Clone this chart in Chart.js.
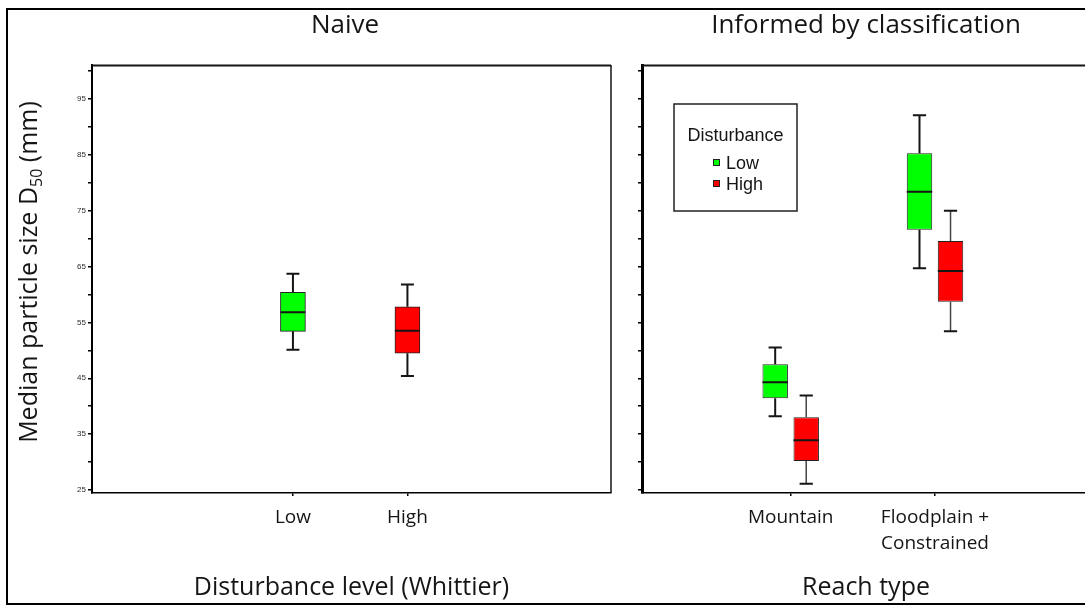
<!DOCTYPE html>
<html>
<head>
<meta charset="utf-8">
<script src="https://cdn.jsdelivr.net/npm/chart.js@4.4.1/dist/chart.umd.min.js"></script>
<style>
  html, body { margin: 0; padding: 0; background: #fff; overflow: hidden; width: 1085px; height: 606px; }
  #frame { position: absolute; left: 6px; top: 8px; width: 1200px; height: 593px; border: 2px solid #000; }
  #naive { position: absolute; left: 0; top: 0; }
  #informed { position: absolute; left: 620px; top: 0; }
</style>
</head>
<body>
<div id="frame"></div>
<canvas id="naive" width="625" height="606"></canvas>
<canvas id="informed" width="480" height="606"></canvas>
<script>
// Median particle size D50 (mm): box-and-whisker summaries

// Naive grouping by disturbance level (Whittier)
const disturbanceLevels = ['Low', 'High'];
const naiveMin    = [50.1, 45.4];
const naiveQ1     = [53.4, 49.5];
const naiveMedian = [56.8, 53.5];
const naiveQ3     = [60.4, 57.8];
const naiveMax    = [63.7, 61.8];

// Grouping informed by reach classification
const reachTypes = ['Mountain', ['Floodplain +', 'Constrained']];
const lowMin     = [38.2, 64.7];
const lowQ1      = [41.4, 71.6];
const lowMedian  = [44.3, 78.4];
const lowQ3      = [47.5, 85.3];
const lowMax     = [50.5, 92.1];
const highMin    = [26.1, 53.4];
const highQ1     = [30.2, 58.7];
const highMedian = [33.9, 64.2];
const highQ3     = [38.0, 69.6];
const highMax    = [41.9, 75.0];

// Value axis ticks (every 5 mm, labelled every 10 mm)
const yTickValues = [25, 30, 35, 40, 45, 50, 55, 60, 65, 70, 75, 80, 85, 90, 95, 100];
const yTickLabels = ['25', '35', '45', '55', '65', '75', '85', '95'];

const GREEN = '#00ff00';
const RED = '#ff0000';
const TEXT_FONT = "'Open Sans', sans-serif";
const SMALL_FONT = "'Liberation Sans', Arial, sans-serif";
const INK = '#151515';

// whiskers and median lines drawn on top of the floating-bar boxes
const boxWhiskers = {
  id: 'boxWhiskers',
  afterDatasetsDraw(chart) {
    const { ctx } = chart;
    const yScale = chart.scales.y;
    chart.data.datasets.forEach((ds, i) => {
      const meta = chart.getDatasetMeta(i);
      const st = ds.whiskers;
      meta.data.forEach((bar, j) => {
        const { x, y, base, width } = bar.getProps(['x', 'y', 'base', 'width'], true);
        const yMin = yScale.getPixelForValue(st.min[j]);
        const yMax = yScale.getPixelForValue(st.max[j]);
        const yMed = yScale.getPixelForValue(st.median[j]);
        const boxTop = Math.min(y, base);
        const boxBottom = Math.max(y, base);
        const cap = width * 0.52;
        ctx.save();
        ctx.lineCap = 'butt';
        ctx.strokeStyle = st.stem;
        ctx.lineWidth = st.stemWidth;
        ctx.beginPath();
        ctx.moveTo(x, boxTop); ctx.lineTo(x, yMax);
        ctx.moveTo(x, boxBottom); ctx.lineTo(x, yMin);
        ctx.stroke();
        ctx.strokeStyle = INK;
        ctx.lineWidth = 2;
        ctx.beginPath();
        ctx.moveTo(x - cap / 2, yMax); ctx.lineTo(x + cap / 2, yMax);
        ctx.moveTo(x - cap / 2, yMin); ctx.lineTo(x + cap / 2, yMin);
        ctx.moveTo(x - width / 2, yMed); ctx.lineTo(x + width / 2, yMed);
        ctx.stroke();
        ctx.restore();
      });
    });
  }
};

// top and right edges of the plotting frame
const panelFrame = {
  id: 'panelFrame',
  afterDraw(chart) {
    const { ctx, chartArea: a } = chart;
    ctx.save();
    ctx.strokeStyle = INK;
    ctx.lineWidth = 2;
    ctx.beginPath(); ctx.moveTo(a.left, a.top + 0.5); ctx.lineTo(a.right, a.top + 0.5); ctx.stroke();
    ctx.lineWidth = 1.5;
    ctx.beginPath(); ctx.moveTo(a.right, a.top); ctx.lineTo(a.right, a.bottom); ctx.stroke();
    ctx.restore();
  }
};

const panelTitle = {
  id: 'panelTitle',
  afterDraw(chart, args, opts) {
    const { ctx } = chart;
    ctx.save();
    ctx.font = `26px ${TEXT_FONT}`;
    ctx.fillStyle = INK;
    ctx.textAlign = 'center';
    ctx.textBaseline = 'middle';
    ctx.fillText(opts.text, opts.x, opts.y);
    ctx.restore();
  }
};

// vertical value-axis title with a subscript
const yTitle = {
  id: 'yTitle',
  afterDraw(chart, args, opts) {
    const { ctx } = chart;
    const parts = [
      { text: opts.before, font: `25px ${TEXT_FONT}`, shift: 0 },
      { text: opts.sub, font: `16px ${TEXT_FONT}`, shift: 5 },
      { text: opts.after, font: `25px ${TEXT_FONT}`, shift: 0 }
    ];
    ctx.save();
    ctx.translate(opts.x, opts.y);
    ctx.rotate(-Math.PI / 2);
    ctx.fillStyle = INK;
    ctx.textBaseline = 'alphabetic';
    ctx.textAlign = 'left';
    let total = 0;
    parts.forEach(p => { ctx.font = p.font; p.w = ctx.measureText(p.text).width; total += p.w; });
    let cx = -total / 2;
    parts.forEach(p => { ctx.font = p.font; ctx.fillText(p.text, cx, opts.baseline + p.shift); cx += p.w; });
    ctx.restore();
  }
};

// boxed legend inside the plotting area
const disturbanceLegend = {
  id: 'disturbanceLegend',
  afterDraw(chart, args, opts) {
    const { ctx, chartArea: a } = chart;
    const left = a.left + 32, top = a.top + 39, w = 123, h = 107;
    ctx.save();
    ctx.fillStyle = '#fff';
    ctx.fillRect(left, top, w, h);
    ctx.strokeStyle = '#222';
    ctx.lineWidth = 1.5;
    ctx.strokeRect(left, top, w, h);
    ctx.font = `18px ${SMALL_FONT}`;
    ctx.fillStyle = INK;
    ctx.textAlign = 'center';
    ctx.textBaseline = 'alphabetic';
    ctx.fillText(opts.title, left + w / 2, top + 37);
    ctx.textAlign = 'left';
    chart.data.datasets.forEach((ds, i) => {
      const cy = top + 58 + i * 21;
      ctx.fillStyle = ds.backgroundColor;
      ctx.fillRect(left + 39, cy - 3, 7, 7);
      ctx.strokeStyle = '#222';
      ctx.lineWidth = 1;
      ctx.strokeRect(left + 39.5, cy - 2.5, 6, 6);
      ctx.fillStyle = INK;
      ctx.fillText(ds.label, left + 52, cy + 7);
    });
    ctx.restore();
  }
};

function valueAxis(showLabels, axisWidth, borderWidth) {
  return {
    type: 'linear',
    min: 24.45,
    max: 101.1,
    afterBuildTicks: s => { s.ticks = yTickValues.map(v => ({ value: v })); },
    afterFit: s => { s.width = axisWidth; },
    grid: { drawOnChartArea: false, drawTicks: true, tickLength: 4, color: '#000', lineWidth: 1.5 },
    border: { display: true, color: '#000', width: borderWidth },
    ticks: {
      padding: 2,
      font: { family: SMALL_FONT, size: 8 },
      color: '#2a2a2a',
      callback: v => (showLabels && yTickLabels.includes(String(v))) ? String(v) : ''
    }
  };
}

function categoryAxis(labels, min, max, title) {
  return {
    type: 'linear',
    offset: false,
    min: min,
    max: max,
    afterBuildTicks: s => { s.ticks = labels.map((_, i) => ({ value: i + 1 })); },
    afterFit: s => { s.height = 113; },
    grid: { offset: false, drawOnChartArea: false, drawTicks: true, tickLength: 3, color: '#000', lineWidth: 1.5 },
    border: { display: true, color: '#000', width: 1.5 },
    ticks: {
      autoSkip: false,
      maxRotation: 0,
      padding: 9,
      font: { family: TEXT_FONT, size: 19, lineHeight: 1.37 },
      color: INK,
      callback: (v, i) => labels[i]
    },
    title: {
      display: true,
      text: title,
      font: { family: TEXT_FONT, size: 25 },
      color: INK,
      padding: { top: 0, bottom: 3 }
    }
  };
}

const commonOptions = {
  responsive: false,
  animation: false,
  events: []
};

new Chart(document.getElementById('naive'), {
  type: 'bar',
  data: {
    datasets: [{
      label: 'Whittier',
      data: disturbanceLevels.map((_, i) => ({ x: i + 1, y: [naiveQ1[i], naiveQ3[i]] })),
      whiskers: { min: naiveMin, median: naiveMedian, max: naiveMax, stem: INK, stemWidth: 2 },
      backgroundColor: [GREEN, RED],
      borderColor: '#222',
      borderWidth: 1,
      borderSkipped: false,
      barThickness: 25
    }]
  },
  options: Object.assign({}, commonOptions, {
    layout: { padding: { top: 65, right: 14, left: 0, bottom: 0 } },
    scales: {
      x: categoryAxis(disturbanceLevels, -0.755, 3.778, 'Disturbance level (Whittier)'),
      y: valueAxis(true, 92, 2)
    },
    plugins: {
      legend: { display: false },
      tooltip: { enabled: false },
      panelTitle: { text: 'Naive', x: 345, y: 26 },
      yTitle: { before: 'Median particle size D', sub: '50', after: ' (mm)', x: 28, y: 272, baseline: 9 }
    }
  }),
  plugins: [boxWhiskers, panelFrame, panelTitle, yTitle]
});

new Chart(document.getElementById('informed'), {
  type: 'bar',
  data: {
    datasets: [{
      label: 'Low',
      data: reachTypes.map((_, i) => ({ x: i + 1, y: [lowQ1[i], lowQ3[i]] })),
      whiskers: { min: lowMin, median: lowMedian, max: lowMax, stem: INK, stemWidth: 2 },
      backgroundColor: GREEN,
      borderColor: '#222',
      borderWidth: 1,
      borderSkipped: false,
      categoryPercentage: 0.43,
      barPercentage: 0.82
    }, {
      label: 'High',
      data: reachTypes.map((_, i) => ({ x: i + 1, y: [highQ1[i], highQ3[i]] })),
      whiskers: { min: highMin, median: highMedian, max: highMax, stem: '#444', stemWidth: 1.5 },
      backgroundColor: RED,
      borderColor: '#222',
      borderWidth: 1,
      borderSkipped: false,
      categoryPercentage: 0.43,
      barPercentage: 0.82
    }]
  },
  options: Object.assign({}, commonOptions, {
    layout: { padding: { top: 65, right: 10, left: 0, bottom: 0 } },
    scales: {
      x: categoryAxis(reachTypes, -0.0305, 3.074, 'Reach type'),
      y: valueAxis(false, 22, 3)
    },
    plugins: {
      legend: { display: false },
      tooltip: { enabled: false },
      panelTitle: { text: 'Informed by classification', x: 246, y: 26 },
      disturbanceLegend: { title: 'Disturbance' }
    }
  }),
  plugins: [boxWhiskers, panelFrame, panelTitle, disturbanceLegend]
});
</script>
</body>
</html>
